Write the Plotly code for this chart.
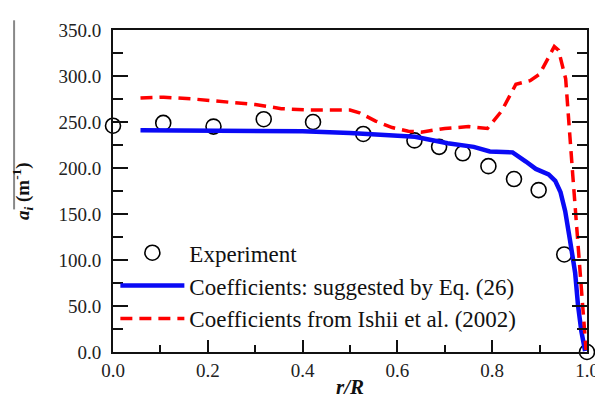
import plotly.graph_objects as go

# Experimental data
r_exp = [0.0, 0.106, 0.212, 0.318, 0.422, 0.528, 0.636, 0.688, 0.738, 0.792, 0.846, 0.898, 0.952, 1.0]
a_exp = [246, 249, 245, 253, 250, 237, 230, 223, 216, 202, 188, 176, 106, 0]

# Coefficients suggested by Eq. (26)
r_eq26 = [0.058, 0.10, 0.20, 0.30, 0.40, 0.50, 0.568, 0.637, 0.706, 0.761, 0.795, 0.843,
          0.871, 0.892, 0.919, 0.933, 0.944, 0.954, 0.964, 0.975, 0.981, 0.988, 0.996]
a_eq26 = [241, 241, 241, 241, 240, 238, 235.5, 234, 227, 223, 218, 217,
          207, 199, 193, 186, 174, 153, 122, 86, 51, 23, 1]

# Coefficients from Ishii et al. (2002)
r_ishii = [0.058, 0.107, 0.169, 0.244, 0.30, 0.355, 0.417, 0.50, 0.52, 0.554, 0.589, 0.623,
           0.65, 0.70, 0.75, 0.79, 0.82, 0.85, 0.88, 0.90, 0.931, 0.94, 0.955, 0.97, 0.985, 0.998]
a_ishii = [276, 277, 275, 272, 269, 264.5, 263, 263, 260, 251, 244, 240,
           239, 243, 245, 243, 262, 291, 295, 302, 332, 328, 297, 192, 86, 2]

y_ticks = [0, 50, 100, 150, 200, 250, 300, 350]
x_ticks = [0.0, 0.2, 0.4, 0.6, 0.8, 1.0]

FONT = "Liberation Serif, Times New Roman, Times, DejaVu Serif, serif"

fig = go.Figure()
fig.add_trace(go.Scatter(
    x=r_exp, y=a_exp, mode="markers", name="Experiment",
    marker=dict(symbol="circle-open", size=15, color="black", line=dict(width=1.6)),
    cliponaxis=False, legendgroup="a"))
fig.add_trace(go.Scatter(
    x=r_eq26, y=a_eq26, mode="lines", name="Coefficients: suggested by Eq. (26)",
    line=dict(color="#0a0af5", width=4.5), legendgroup="b"))
fig.add_trace(go.Scatter(
    x=r_ishii, y=a_ishii, mode="lines", name="Coefficients from Ishii et al. (2002)",
    line=dict(color="#ff0000", width=3.5, dash="12px,7px"), legendgroup="c"))
# invisible trace to draw right-side ticks
fig.add_trace(go.Scatter(x=[0], y=[0], yaxis="y2", mode="markers",
                         marker=dict(opacity=0), showlegend=False, hoverinfo="skip"))

fig.update_layout(
    width=603, height=399,
    margin=dict(l=105, r=14, t=17, b=50),
    paper_bgcolor="white", plot_bgcolor="white",
    font=dict(family=FONT, color="#222", size=16),
    showlegend=True,
    legend=dict(x=0.005, y=0.375, xanchor="left", yanchor="top",
                bgcolor="rgba(0,0,0,0)", font=dict(family=FONT, size=23, color="#111"),
                itemwidth=64, tracegroupgap=0, traceorder="grouped"),
    xaxis=dict(range=[0, 1], tickvals=x_ticks, tickformat=".1f",
               ticks="inside", ticklen=12, tickwidth=1.5, tickcolor="#111",
               minor=dict(ticks="inside", ticklen=7, dtick=0.1, tickwidth=1.5, tickcolor="#111"),
               showline=True, linecolor="#111", linewidth=1.8, mirror=True,
               showgrid=False, zeroline=False,
               tickfont=dict(family=FONT, size=19, color="#222"),
               title=dict(text="<b><i>r/R</i></b>", font=dict(family=FONT, size=21, color="#111"),
                          standoff=0)),
    yaxis=dict(range=[0, 350], tickvals=y_ticks, tickformat=".1f",
               ticks="inside", ticklen=15, tickwidth=1.5, tickcolor="#111",
               minor=dict(ticks="inside", ticklen=10, dtick=25, tickwidth=1.5, tickcolor="#111"),
               showline=True, linecolor="#111", linewidth=1.8, mirror=True,
               showgrid=False, zeroline=False, ticklabelstandoff=6,
               tickfont=dict(family=FONT, size=19, color="#222")),
    yaxis2=dict(range=[0, 350], overlaying="y", side="right", tickvals=y_ticks,
                ticks="inside", ticklen=15, tickwidth=1.5, tickcolor="#111",
                minor=dict(ticks="inside", ticklen=10, dtick=25, tickwidth=1.5, tickcolor="#111"),
                showticklabels=False, showgrid=False, zeroline=False, showline=False),
)

fig.add_annotation(
    text="<b><i>a<sub>i</sub></i> (m<sup>-1</sup>)</b>",
    xref="paper", yref="paper", x=(12 - 105) / 484, y=0.5,
    xanchor="center", yanchor="middle", textangle=-90, showarrow=False,
    font=dict(family=FONT, size=19, color="#111"))

# decorative overline artifact at far left
fig.add_shape(type="line", xref="paper", yref="paper",
              x0=(4 - 105) / 484, x1=(4 - 105) / 484,
              y0=(349 - 7) / 332, y1=(349 - 202) / 332,
              line=dict(color="#888", width=2))

fig.write_html("out.html")
